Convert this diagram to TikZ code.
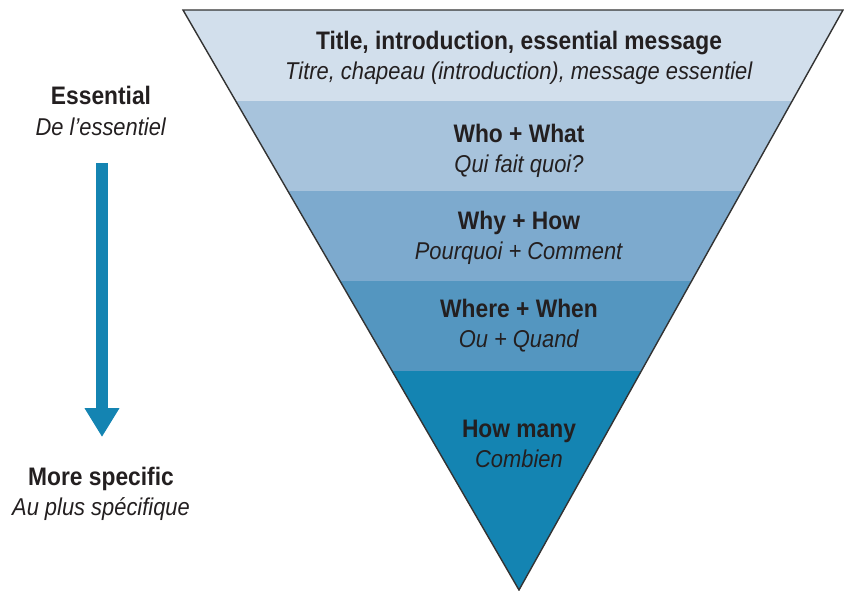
\documentclass[tikz,border=0pt]{standalone}
\usepackage{fontspec}
\setmainfont{Liberation Sans}[FakeStretch=0.9]
\usepackage{xcolor}
\usepackage{tikz}
\usetikzlibrary{arrows.meta}
\usetikzlibrary{positioning}

\definecolor{bandA}{HTML}{D2DFEC}
\definecolor{bandB}{HTML}{A7C3DC}
\definecolor{bandC}{HTML}{7DAACE}
\definecolor{bandD}{HTML}{5496C0}
\definecolor{bandE}{HTML}{1484B2}
\definecolor{inkgray}{HTML}{231F20}
\definecolor{edgegray}{HTML}{333333}

\tikzset{
  label/.style={align=center, text=inkgray, font=\fontsize{18}{21.5}\selectfont, inner sep=0pt},
  outline/.style={draw=edgegray, line width=1pt, line join=miter},
}
\newcommand{\hd}[1]{\textbf{#1}}
\newcommand{\tr}[1]{{\fontsize{17.3}{21.5}\selectfont\textit{#1}}}

\begin{document}
\begin{tikzpicture}[x=0.025cm,y=-0.025cm]
    \useasboundingbox (0,0) rectangle (844,591);
    % corners of the funnel
    \coordinate (TL) at (183,10);
    \coordinate (TR) at (843,10);
    \coordinate (V) at (519,590);
    % bands, cut to the triangle
    \begin{scope}
      \clip (TL) -- (TR) -- (V) -- cycle;
      \fill[bandA] (0,10) rectangle (844,101);
      \fill[bandB] (0,101) rectangle (844,191);
      \fill[bandC] (0,191) rectangle (844,281);
      \fill[bandD] (0,281) rectangle (844,371);
      \fill[bandE] (0,371) rectangle (844,591);
    \end{scope}
    \draw[outline] (TL) -- (TR) -- (V) -- cycle;
    \node[label] (L1) at (519,58) {\hd{Title, introduction, essential message}\\\tr{Titre, chapeau (introduction), message essentiel}};
    \node[label] (L2) at (519,151) {\hd{Who + What}\\\tr{Qui fait quoi?}};
    \node[label] (L3) at (519,238) {\hd{Why + How}\\\tr{Pourquoi + Comment}};
    \node[label] (L4) at (519,326) {\hd{Where + When}\\\tr{Ou + Quand}};
    \node[label] (L5) at (519,444) {\hd{How many}\\\tr{Combien}};
    % left side scale
    \node[label] (ess) at (101,111) {\hd{Essential}\\\tr{De l’essentiel}};
    \node[label] (spec) at (101,494) {\hd{More specific}\\\tr{Au plus spécifique}};
    \coordinate (arrtop) at (102,163);
    \coordinate (arrtip) at (102,437);
    \draw[bandE, line width=0.3cm, -{Triangle[length=0.72cm, width=0.82cm]}] (arrtop) -- (arrtip);
  \end{tikzpicture}
\end{document}
